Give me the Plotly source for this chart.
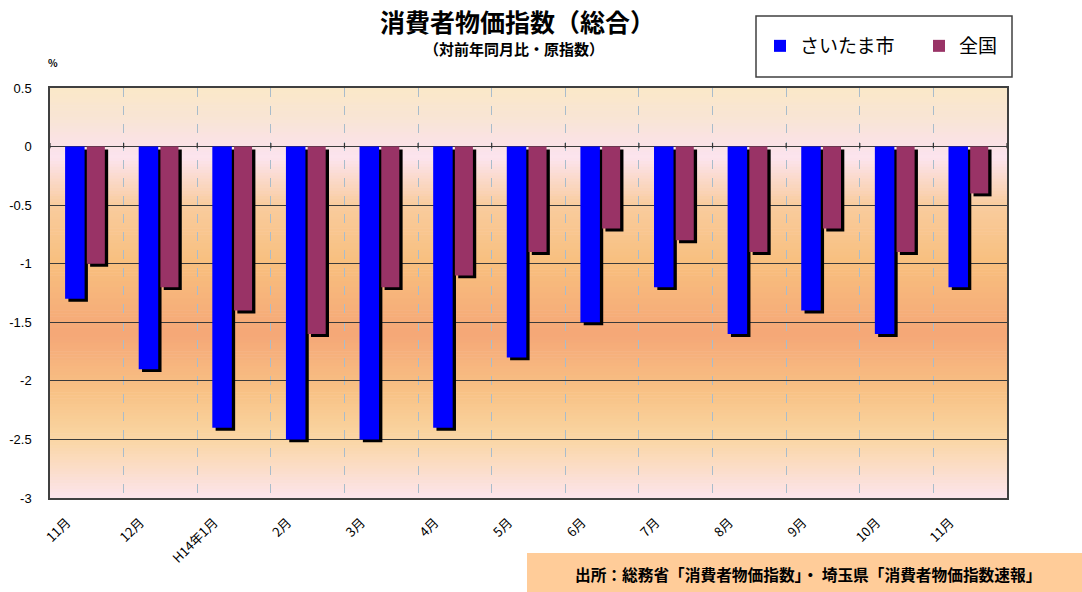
import plotly.graph_objects as go

# ---- data ----
categories = ["11月", "12月", "H14年1月", "2月", "3月", "4月", "5月", "6月", "7月", "8月", "9月", "10月", "11月"]
saitama = [-1.3, -1.9, -2.4, -2.5, -2.5, -2.4, -1.8, -1.5, -1.2, -1.6, -1.4, -1.6, -1.2]
zenkoku = [-1.0, -1.2, -1.4, -1.6, -1.2, -1.1, -0.9, -0.7, -0.8, -0.9, -0.7, -0.9, -0.4]
series_names = ["さいたま市", "全国"]
y_ticks = [0.5, 0, -0.5, -1, -1.5, -2, -2.5, -3]
y_ticktext = ["0.5", "0", "-0.5", "-1", "-1.5", "-2", "-2.5", "-3"]

# ---- style ----
BLUE = "#0000FF"
PURPLE = "#993366"
JP = "Noto Sans CJK JP"
SHADOW_DY = 0.025
Y_MIN, Y_MAX = -3.0, 0.5

x_idx = list(range(len(categories)))
n = len(categories)

# background gradient stops (style): (y, colour)
bg_stops = [(0.5, "#FAE8C8"), (0.25, "#F9E5D4"), (0.02, "#FAE2E6"), (-0.1, "#FCE4EE"),
            (-0.5, "#F9CC9E"), (-1.0, "#F8BF7E"), (-1.6, "#F5A777"), (-2.1, "#F8C285"),
            (-2.5, "#FAD6A4"), (-3.0, "#FCE4EC")]


def hex2rgb(h):
    h = h.lstrip("#")
    return tuple(int(h[i:i + 2], 16) for i in (0, 2, 4))


def colour_at(y):
    for (y0, c0), (y1, c1) in zip(bg_stops[:-1], bg_stops[1:]):
        if y1 <= y <= y0:
            t = (y0 - y) / (y0 - y1) if y0 != y1 else 0
            a, b = hex2rgb(c0), hex2rgb(c1)
            r = [round(a[k] + (b[k] - a[k]) * t) for k in range(3)]
            return "rgb(%d,%d,%d)" % tuple(r)
    return bg_stops[-1][1]


N_STRIPES = 140
step = (Y_MAX - Y_MIN) / N_STRIPES
bg_shapes = []
for i in range(N_STRIPES):
    y_top = Y_MAX - i * step
    y_bot = y_top - step
    bg_shapes.append(dict(type="rect", xref="x domain", yref="y", x0=0, x1=1,
                          y0=y_bot - 0.002, y1=y_top + 0.002, line=dict(width=0),
                          fillcolor=colour_at((y_top + y_bot) / 2), layer="below"))

# small category-boundary tick marks crossing the zero line
zero_ticks = [dict(type="line", xref="x", yref="y", x0=i + 0.5, x1=i + 0.5, y0=-0.015, y1=0.03,
                   line=dict(color="#333333", width=1.2)) for i in range(-1, n)]

fig = go.Figure()

shadow_base = [-SHADOW_DY] * n
fig.add_trace(go.Bar(x=x_idx, y=saitama, base=shadow_base, width=0.265, offset=-0.25,
                     marker=dict(color="black", line=dict(width=0)), showlegend=False, hoverinfo="skip"))
fig.add_trace(go.Bar(x=x_idx, y=saitama, name=series_names[0], width=0.265, offset=-0.295,
                     marker=dict(color=BLUE, line=dict(width=0))))
fig.add_trace(go.Bar(x=x_idx, y=zenkoku, base=shadow_base, width=0.245, offset=0.045,
                     marker=dict(color="black", line=dict(width=0)), showlegend=False, hoverinfo="skip"))
fig.add_trace(go.Bar(x=x_idx, y=zenkoku, name=series_names[1], width=0.245, offset=0.0,
                     marker=dict(color=PURPLE, line=dict(width=0))))

W, H = 1082, 592
L, R, T, B = 50, 75, 88, 94
pw, ph = W - L - R, H - T - B


def px(x):
    return (x - L) / pw


def py(y):
    return (H - B - y) / ph


fig.update_layout(
    width=W, height=H,
    margin=dict(l=L, r=R, t=T, b=B, autoexpand=False),
    barmode="overlay",
    paper_bgcolor="white",
    plot_bgcolor="#FCE4EC",
    font=dict(family=JP, color="black"),
    showlegend=True,
    legend=dict(orientation="h", x=px(760), y=py(46), xanchor="left", yanchor="middle",
                font=dict(family=JP, size=19, color="black"),
                bgcolor="rgba(0,0,0,0)", borderwidth=0, entrywidth=114, entrywidthmode="pixels",
                traceorder="normal"),
    xaxis=dict(range=[-0.5, n - 0.5], tickmode="array", tickvals=x_idx, ticktext=categories,
               tickangle=-45, showgrid=False, zeroline=False, ticks="",
               tickfont=dict(family=JP, size=13, color="black"),
               ticklabelstandoff=10, ticklabelshift=-20,
               showline=True, mirror=True, linecolor="#404040", linewidth=1.5,
               minor=dict(tickmode="array", tickvals=[i + 0.5 for i in range(n - 1)],
                          showgrid=True, griddash="dash", gridcolor="#A9BCCB", gridwidth=1, ticks=""),
               layer="above traces"),
    yaxis=dict(range=[Y_MIN, Y_MAX], tickmode="array", tickvals=y_ticks, ticktext=y_ticktext,
               showgrid=True, gridcolor="#3A3A3A", gridwidth=1.2, zeroline=False, ticks="",
               tickfont=dict(family="Liberation Sans, Arial", size=13, color="black"),
               ticklabelstandoff=14,
               showline=True, mirror=True, linecolor="#404040", linewidth=1.5,
               layer="above traces"),
    shapes=bg_shapes + zero_ticks + [
        dict(type="rect", xref="paper", yref="paper", x0=px(756), x1=px(1012), y0=py(77), y1=py(16),
             line=dict(color="#404040", width=1.5), fillcolor="white", layer="below"),
        dict(type="rect", xref="paper", yref="paper", x0=px(527), x1=px(1082), y0=py(592), y1=py(553),
             line=dict(width=0), fillcolor="#FFCC99", layer="below"),
    ],
    annotations=[
        dict(text="<b>消費者物価指数（総合）</b>", xref="paper", yref="paper", x=px(517), y=py(21),
             xanchor="center", yanchor="middle", showarrow=False, font=dict(family=JP, size=25)),
        dict(text="<b>（対前年同月比・原指数）</b>", xref="paper", yref="paper", x=px(514), y=py(49),
             xanchor="center", yanchor="middle", showarrow=False, font=dict(family=JP, size=15)),
        dict(text="<b>%</b>", xref="paper", yref="paper", x=px(53), y=py(63),
             xanchor="center", yanchor="middle", showarrow=False, font=dict(family=JP, size=10)),
        dict(text="<b>出所：総務省「消費者物価指数」・ 埼玉県「消費者物価指数速報」</b>", xref="paper", yref="paper",
             x=px(808), y=py(574), xanchor="center", yanchor="middle", showarrow=False,
             font=dict(family=JP, size=15.7)),
    ],
)

fig.write_html("out.html")
